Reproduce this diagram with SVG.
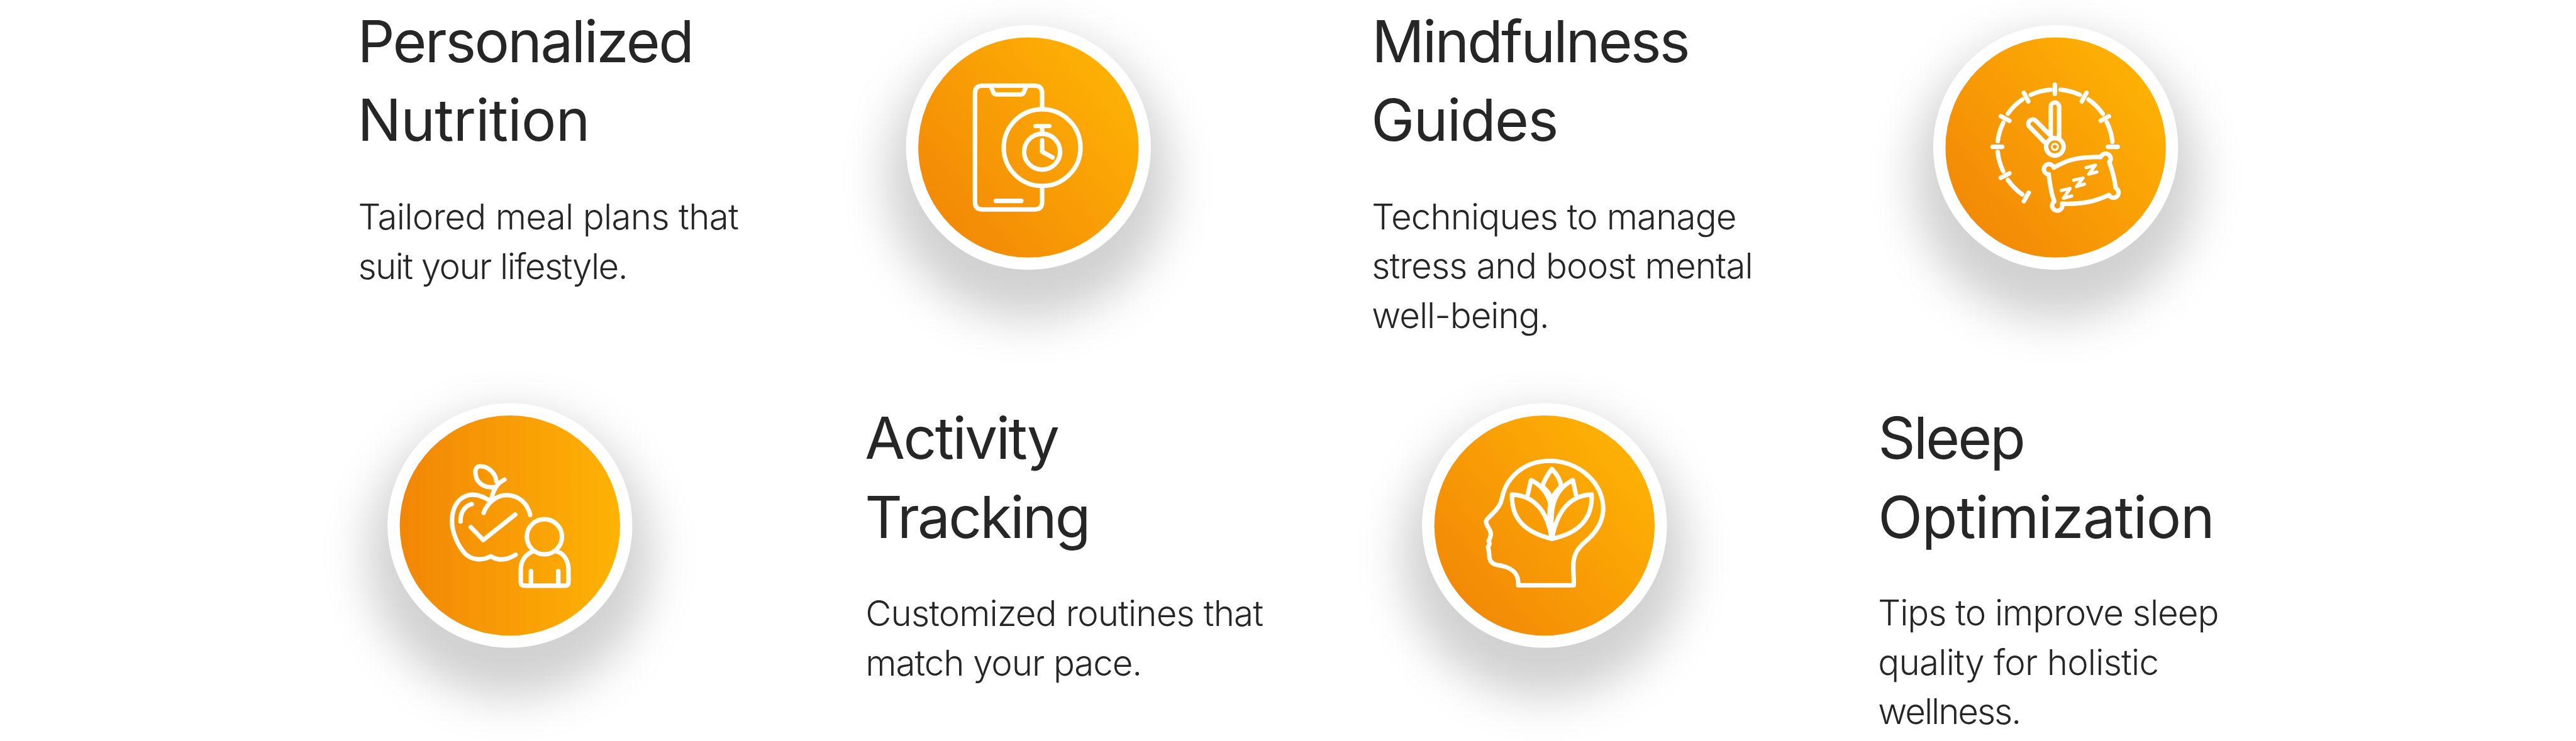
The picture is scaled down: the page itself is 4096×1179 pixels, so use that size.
<svg xmlns="http://www.w3.org/2000/svg" width="4096" height="1179" viewBox="0 0 4096 1179">
<style>
text{font-family:"Inter","Liberation Sans",sans-serif;font-variant-ligatures:none;fill:#262626}
.h{font-size:95px;font-weight:400}
.b{font-size:58px;font-weight:300}
.i{fill:none;stroke:#fff;stroke-width:22;stroke-linecap:round;stroke-linejoin:round}
.s{fill:#000;fill-opacity:.18;filter:url(#blur)}
.w{fill:#fff}
</style>
<defs>
<filter id="blur" filterUnits="userSpaceOnUse" x="0" y="-200" width="4208" height="1500"><feGaussianBlur stdDeviation="36"/></filter>
<linearGradient id="diag" x1="0.05" y1="0.9" x2="0.95" y2="0.15"><stop offset="0" stop-color="#f28606"/><stop offset="1" stop-color="#feb304"/></linearGradient>
<linearGradient id="horiz" x1="0" y1="0" x2="1" y2="0"><stop offset="0" stop-color="#f28606"/><stop offset="1" stop-color="#feb304"/></linearGradient>
</defs>
<rect width="4096" height="1179" fill="#fff"/>
<g transform="scale(0.97338)">
<g id="connectors"/>
<g id="node-personalized-nutrition">
<circle class="s" cx="1680" cy="290" r="232"/><circle class="w" cx="1680" cy="241" r="200"/><circle cx="1680" cy="241" r="180" fill="url(#diag)"/>
<g class="i" transform="translate(1440,20) scale(.33333)">
<path d="M787,468V397Q787,360 750,360H495Q458,360 458,397V930Q458,967 495,967H750Q787,967 787,930V862"/>
<path d="M535,362L548,393Q552,403 562,403H683Q693,403 697,393L710,362"/>
<path d="M560,925H685"/>
<circle cx="787" cy="664" r="188"/>
<circle cx="787" cy="684" r="88"/>
<path d="M755,558H822M787,558V596"/>
<path d="M787,628V684L838,712"/>
</g>
<text class="h" x="584" y="102" textLength="550">Personalized</text>
<text class="h" x="584" y="230" textLength="380">Nutrition</text>
<text class="b" x="585" y="375" textLength="622">Tailored meal plans that</text>
<text class="b" x="585" y="456" textLength="441">suit your lifestyle.</text>
</g>
<g id="node-mindfulness-guides">
<circle class="s" cx="3358" cy="290" r="232"/><circle class="w" cx="3358" cy="241" r="200"/><circle cx="3358" cy="241" r="180" fill="url(#diag)"/>
<g class="i" transform="translate(3120,20) scale(.33333)">
<path d="M710,355V400M865,395L842,437M975,510L935,532M970,660H1018M405,660H452M445,510L487,532M558,395L580,437M445,812L487,790M582,885L558,927"/>
<path d="M738,380A280,280 0 0 1 832,405M875,428A280,280 0 0 1 945,498M965,540A280,280 0 0 1 992,635M430,632A280,280 0 0 1 457,542M480,497A280,280 0 0 1 550,428M592,405A280,280 0 0 1 688,380M430,685A280,280 0 0 0 457,780M480,822A280,280 0 0 0 550,893"/>
<circle cx="710" cy="660" r="43"/>
<circle cx="710" cy="660" r="15" stroke-width="10"/>
<g transform="translate(360,390)">
<path d="M330,222V73A20,20 0 0 1 371,73V228"/>
<path d="M308,256L226,172A21,21 0 0 1 258,143L322,208"/>
<path d="M345,372C400,340 450,318 575,320A25,25 0 1 1 617,345C640,410 645,440 648,472A25,25 0 1 1 615,506C550,535 500,552 385,549A25,25 0 1 1 347,538C330,490 325,450 320,405A25,25 0 1 1 345,372Z"/>
<path stroke-width="16" d="M382,484L425,474L392,522L433,511M442,434L488,423L456,465L495,453M503,372L549,360L516,404L556,393"/>
</g>
</g>
<text class="h" x="2241" y="102" textLength="520">Mindfulness</text>
<text class="h" x="2240" y="230" textLength="306">Guides</text>
<text class="b" x="2241" y="375" textLength="596">Techniques to manage</text>
<text class="b" x="2241" y="455" textLength="623">stress and boost mental</text>
<text class="b" x="2241" y="536" textLength="290">well-being.</text>
</g>
<g id="node-activity-tracking">
<circle class="s" cx="833" cy="908" r="232"/><circle class="w" cx="833" cy="859" r="200"/><circle cx="833" cy="859" r="180" fill="url(#horiz)"/>
<g class="i" transform="translate(600,640) scale(.33333)">
<path d="M798,605C785,545 740,508 680,508C640,508 590,540 570,595"/>
<path d="M592,530C560,510 520,500 490,510C440,525 415,575 415,635C415,690 445,760 480,795C510,825 560,832 605,808C640,830 680,830 727,800"/>
<path d="M512,552C480,560 455,590 457,637"/>
<path d="M507,665L568,728L725,603"/>
<path d="M610,520C620,480 635,450 672,432"/>
<path d="M625,468C590,475 550,460 535,425C525,395 528,365 555,366C590,366 630,400 632,440"/>
<circle cx="868" cy="712" r="86"/>
<path d="M808,785C775,800 752,830 752,875V935Q752,952 770,952H970Q986,952 986,935V875C986,830 965,795 930,785"/>
<path d="M802,880V950M936,880V950"/>
</g>
<text class="h" x="1413" y="750" textLength="318">Activity</text>
<text class="h" x="1413" y="879" textLength="369">Tracking</text>
<text class="b" x="1414" y="1023" textLength="650">Customized routines that</text>
<text class="b" x="1414" y="1104" textLength="452">match your pace.</text>
</g>
<g id="node-sleep-optimization">
<circle class="s" cx="2523" cy="908" r="232"/><circle class="w" cx="2523" cy="859" r="200"/><circle cx="2523" cy="859" r="180" fill="url(#diag)"/>
<g class="i" transform="translate(2300,640) scale(.33333)">
<path d="M540,950C545,890 510,860 435,850C410,845 398,830 398,800C398,785 395,775 392,762C402,750 402,745 395,733C402,720 408,705 405,690C400,670 380,655 383,635C385,625 400,615 410,603C435,580 455,555 460,525C480,420 570,340 695,340C830,340 955,440 957,575C955,640 925,690 870,735C830,770 810,800 810,860C810,900 815,920 812,950Z"/>
<path d="M705,722C690,620 640,510 510,505C505,620 570,690 705,722C725,620 770,510 900,505C905,620 840,695 705,722"/>
<path d="M587,505L603,435C650,455 685,500 697,550C690,600 698,680 705,722"/>
<path d="M823,505L808,435C755,460 715,510 705,590C700,640 705,690 705,722"/>
<path d="M660,460C670,430 690,400 705,380C725,400 745,430 752,465"/>
<path d="M665,470C680,485 695,505 705,525C715,505 730,485 750,465"/>
</g>
<text class="h" x="3068" y="750" textLength="241">Sleep</text>
<text class="h" x="3068" y="879" textLength="550">Optimization</text>
<text class="b" x="3068" y="1022" textLength="557">Tips to improve sleep</text>
<text class="b" x="3068" y="1103" textLength="459">quality for holistic</text>
<text class="b" x="3068" y="1184" textLength="234">wellness.</text>
</g>
</g>
</svg>
